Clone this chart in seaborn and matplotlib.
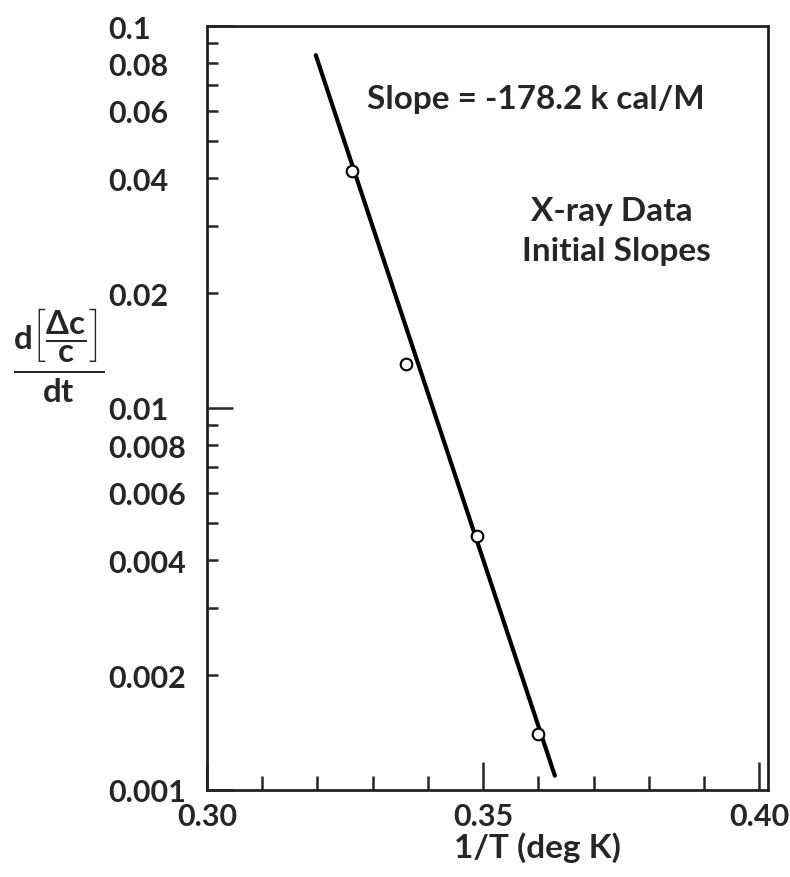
import matplotlib
matplotlib.use('Agg')
import matplotlib.pyplot as plt
import matplotlib.ticker as mticker
import seaborn as sns

# measured points (1/T vs d[dc/c]/dt)
inv_t = [0.3263, 0.3360, 0.3489, 0.3600]
rate = [0.0417, 0.0130, 0.00462, 0.00140]

# fitted line end points
fit_x = [0.3197, 0.3630]
fit_y = [0.0839, 0.00109]

y_labels = [0.001, 0.002, 0.004, 0.006, 0.008, 0.01, 0.02, 0.04, 0.06, 0.08, 0.1]
x_labels = [0.30, 0.35, 0.40]

sns.set_style('white')
plt.rcParams['font.family'] = ['Lato', 'DejaVu Sans']
plt.rcParams['mathtext.fontset'] = 'custom'
plt.rcParams['mathtext.rm'] = 'Lato'
plt.rcParams['mathtext.it'] = 'Lato'
plt.rcParams['mathtext.bf'] = 'Lato:bold'

fig = plt.figure(figsize=(7.9, 8.78), dpi=100)
ax = fig.add_axes([207 / 790, 87 / 878, 561 / 790, 764 / 878])

sns.lineplot(x=fit_x, y=fit_y, ax=ax, color='black', linewidth=3, zorder=2)
sns.scatterplot(x=inv_t, y=rate, ax=ax, s=70, facecolor='white',
                edgecolor='black', linewidth=1.5, zorder=3)

ax.set_yscale('log')
ax.set_xlim(0.30, 0.4016)
ax.set_ylim(0.001, 0.1)

# y axis: long ticks at decades, short ones between
ax.yaxis.set_major_locator(mticker.FixedLocator([0.001, 0.01, 0.1]))
ax.yaxis.set_minor_locator(mticker.LogLocator(base=10, subs=range(2, 10)))
fmt = lambda v, pos: ('%g' % v) if any(abs(v - l) < 1e-9 for l in y_labels) else ''
ax.yaxis.set_major_formatter(mticker.FuncFormatter(fmt))
ax.yaxis.set_minor_formatter(mticker.FuncFormatter(fmt))

ax.xaxis.set_major_locator(mticker.FixedLocator(x_labels))
ax.xaxis.set_minor_locator(mticker.MultipleLocator(0.01))
ax.xaxis.set_major_formatter(mticker.FormatStrFormatter('%.2f'))

ax.tick_params(axis='y', which='major', direction='in', length=19, width=1.8,
               pad=71, labelsize=22, left=True)
ax.tick_params(axis='y', which='minor', direction='in', length=8, width=1.8,
               pad=71, labelsize=22, left=True)
ax.tick_params(axis='x', which='major', direction='in', length=20, width=1.8,
               pad=9, labelsize=22, bottom=True)
ax.tick_params(axis='x', which='minor', direction='in', length=10, width=1.8,
               bottom=True)
for lbl in ax.get_yticklabels() + ax.get_yticklabels(minor=True) + ax.get_xticklabels():
    lbl.set_fontweight('bold')
plt.setp(ax.get_yticklabels(), ha='left')
plt.setp(ax.get_yticklabels(minor=True), ha='left')

for side in ['left', 'right', 'top', 'bottom']:
    ax.spines[side].set_visible(True)
    ax.spines[side].set_color('#222222')
    ax.spines[side].set_linewidth(2)

fig.text(367 / 790, 1 - 100 / 878, 'Slope = -178.2 k cal/M', fontsize=24,
         fontweight='bold', ha='left', va='center')
fig.text(612 / 790, 1 - 212 / 878, 'X-ray Data', fontsize=24,
         fontweight='bold', ha='center', va='center')
fig.text(616 / 790, 1 - 252 / 878, 'Initial Slopes', fontsize=24,
         fontweight='bold', ha='center', va='center')

fig.text(59 / 790, 1 - 356 / 878,
         r'$\frac{\mathbf{d}\left[\dfrac{\mathbf{\Delta c}}{\mathbf{c}}\right]}{\mathbf{dt}}$',
         fontsize=34, ha='center', va='center')
fig.text(537 / 790, 1 - 848 / 878, '1/T (deg K)', fontsize=24,
         fontweight='bold', ha='center', va='center')

fig.savefig('out.png', dpi=100, facecolor='white')
